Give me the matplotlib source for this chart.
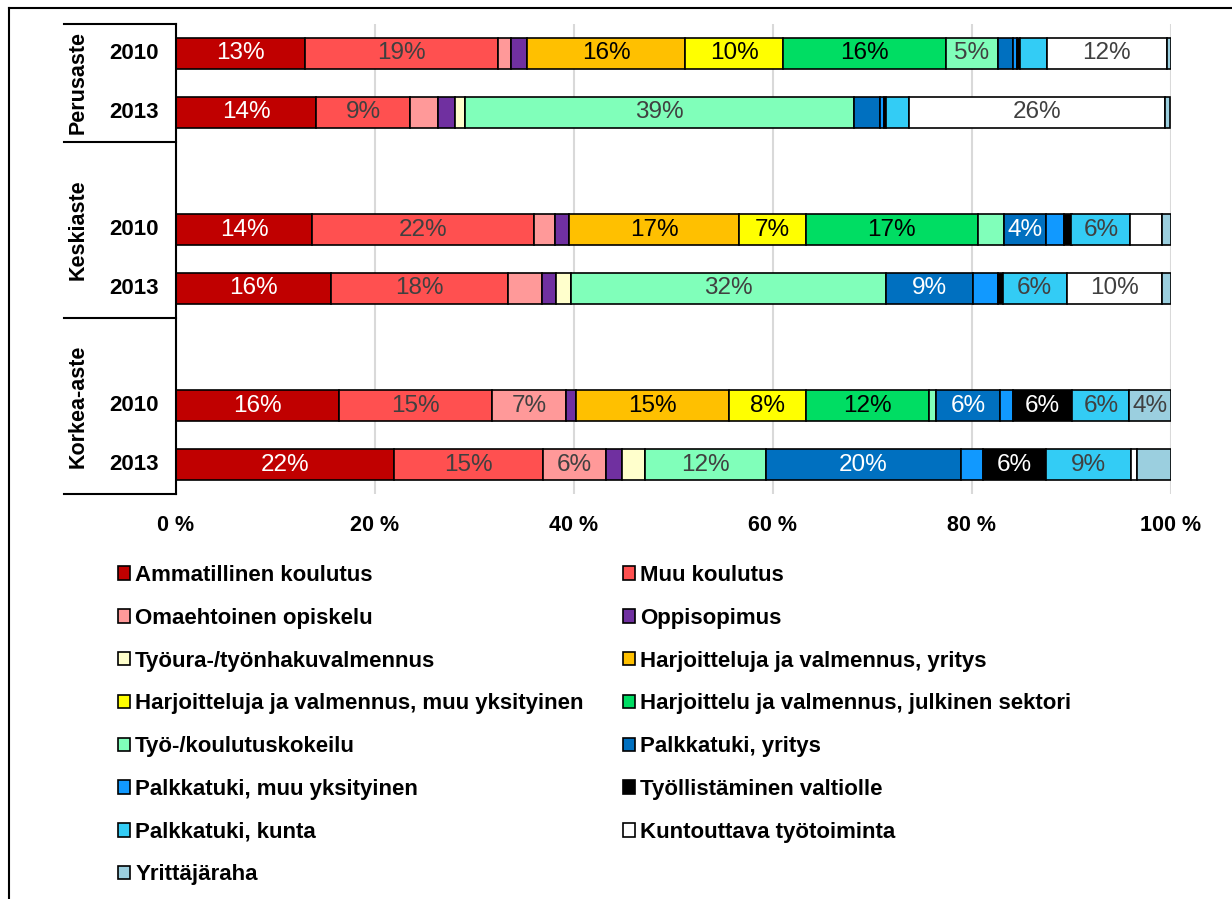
import matplotlib
matplotlib.use("Agg")
import matplotlib.pyplot as plt
import matplotlib.transforms as mtransforms
from matplotlib.patches import Patch
from matplotlib.lines import Line2D
import numpy as np

plt.rcParams['font.family'] = ['Liberation Sans', 'DejaVu Sans']

# ---------------- data ----------------
groups = ["Perusaste", "Keskiaste", "Korkea-aste"]
years = ["2010", "2013"]
# slots (top to bottom): P2010, P2013, (blank), K2010, K2013, (blank), Ko2010, Ko2013
row_slots = [0, 1, 3, 4, 6, 7]
row_years = ["2010", "2013", "2010", "2013", "2010", "2013"]

series_names = [
    "Ammatillinen koulutus",
    "Muu koulutus",
    "Omaehtoinen opiskelu",
    "Oppisopimus",
    "Työura-/työnhakuvalmennus",
    "Harjoitteluja ja valmennus, yritys",
    "Harjoitteluja ja valmennus, muu yksityinen",
    "Harjoittelu ja valmennus, julkinen sektori",
    "Työ-/koulutuskokeilu",
    "Palkkatuki, yritys",
    "Palkkatuki, muu yksityinen",
    "Työllistäminen valtiolle",
    "Palkkatuki, kunta",
    "Kuntouttava työtoiminta",
    "Yrittäjäraha",
]

# values (%) for rows: P2010, P2013, K2010, K2013, Ko2010, Ko2013
ammatillinen = [13.0, 14.1, 13.7, 15.6, 16.4, 21.9]
muu_koulutus = [19.4, 9.4, 22.3, 17.8, 15.4, 15.0]
omaehtoinen = [1.3, 2.8, 2.1, 3.4, 7.4, 6.3]
oppisopimus = [1.6, 1.7, 1.4, 1.4, 1.0, 1.6]
tyoura = [0.0, 1.0, 0.0, 1.5, 0.0, 2.3]
harj_yritys = [15.9, 0.0, 17.1, 0.0, 15.4, 0.0]
harj_muu_yks = [9.8, 0.0, 6.7, 0.0, 7.7, 0.0]
harj_julkinen = [16.4, 0.0, 17.3, 0.0, 12.4, 0.0]
koulutuskokeilu = [5.2, 39.1, 2.6, 31.7, 0.7, 12.2]
palkka_yritys = [1.5, 2.7, 4.2, 8.7, 6.4, 19.6]
palkka_muu_yks = [0.4, 0.4, 1.8, 2.5, 1.3, 2.2]
valtiolle = [0.3, 0.2, 0.8, 0.5, 6.0, 6.3]
palkka_kunta = [2.7, 2.3, 5.9, 6.4, 5.7, 8.6]
kuntouttava = [12.1, 25.7, 3.2, 9.6, 0.0, 0.6]
yrittajaraha = [0.4, 0.5, 0.9, 0.9, 4.2, 3.4]

series_values = [ammatillinen, muu_koulutus, omaehtoinen, oppisopimus, tyoura,
                 harj_yritys, harj_muu_yks, harj_julkinen, koulutuskokeilu,
                 palkka_yritys, palkka_muu_yks, valtiolle, palkka_kunta,
                 kuntouttava, yrittajaraha]

colors = ["#C00000", "#FF5050", "#FF9999", "#7030A0", "#FFFFCC",
          "#FFC000", "#FFFF00", "#00DD63", "#80FFBA",
          "#0070C0", "#1199FF", "#000000", "#33CCF5",
          "#FFFFFF", "#9BCFDF"]
label_colors = ["white", "#404040", "#404040", "white", "#404040",
                "black", "black", "black", "#404040",
                "white", "white", "white", "#404040",
                "#404040", "#404040"]

xticks = [0, 20, 40, 60, 80, 100]
xticklabels = ["0 %", "20 %", "40 %", "60 %", "80 %", "100 %"]

# ---------------- figure ----------------
W, H = 1232, 899
fig = plt.figure(figsize=(W / 100, H / 100), dpi=100)
ax = fig.add_axes([176 / W, 1 - 494 / H, (1171 - 176) / W, (494 - 24) / H])

y = np.array(row_slots, dtype=float)
left = np.zeros(len(row_slots))
for name, vals, c, tc in zip(series_names, series_values, colors, label_colors):
    vals = np.array(vals)
    ax.barh(y, vals, left=left, height=0.53, color=c, edgecolor="black",
            linewidth=1.2, label=name, zorder=3)
    for yi, li, v in zip(y, left, vals):
        if v >= 3.5:
            ax.text(li + v / 2, yi, f"{v:.0f}%", ha="center", va="center",
                    fontsize=17.5, color=tc, zorder=4)
    left = left + vals

ax.set_xlim(0, 100)
ax.set_ylim(7.5, -0.5)
ax.set_yticks([])
ax.set_xticks(xticks)
ax.set_xticklabels(xticklabels, fontsize=15.5, fontweight="bold")
ax.tick_params(axis="x", length=0, pad=15)
ax.xaxis.grid(True, color="#d9d9d9", linewidth=1.5, zorder=0)
ax.set_axisbelow(True)
for s in ["top", "right", "bottom"]:
    ax.spines[s].set_visible(False)
ax.spines["left"].set_linewidth(1.5)
ax.spines["left"].set_zorder(5)

# multi-level category axis
tr = mtransforms.blended_transform_factory(fig.transFigure, ax.transData)
for yy in [-0.5, 1.5, 4.5, 7.5]:
    ax.add_line(Line2D([64 / W, 176 / W], [yy, yy], transform=tr, color="black",
                       linewidth=1.5, clip_on=False))
for yi, yr in zip(row_slots, row_years):
    ax.text(134 / W, yi, yr, transform=tr, ha="center", va="center",
            fontsize=16, fontweight="bold")
group_centers = [0.5, 3.0, 6.0]
for g, gc in zip(groups, group_centers):
    ax.text(78 / W, gc, g, transform=tr, ha="center", va="center", rotation=90,
            fontsize=15.5, fontweight="bold")

# outer frame (top and left edges)
fig.add_artist(Line2D([9 / W, 1.0], [1 - 8 / H, 1 - 8 / H], transform=fig.transFigure,
                      color="black", linewidth=1.5))
fig.add_artist(Line2D([9 / W, 9 / W], [1 - 8 / H, 0.0], transform=fig.transFigure,
                      color="black", linewidth=1.5))

# legend: Excel row-major order -> matplotlib column-major
handles = [Patch(facecolor=c, edgecolor="black", linewidth=1.2) for c in colors]
order = list(range(0, 15, 2)) + list(range(1, 15, 2))
fig.legend([handles[i] for i in order], [series_names[i] for i in order],
           ncol=2, loc="upper left", bbox_to_anchor=(118 / W, 1 - 565 / H),
           frameon=False, borderpad=0, borderaxespad=0,
           prop={"size": 16, "weight": "bold"},
           handlelength=0.55, handleheight=0.55, handletextpad=0.22,
           labelspacing=0.98, columnspacing=1.78)

fig.savefig("out.png", dpi=100)
